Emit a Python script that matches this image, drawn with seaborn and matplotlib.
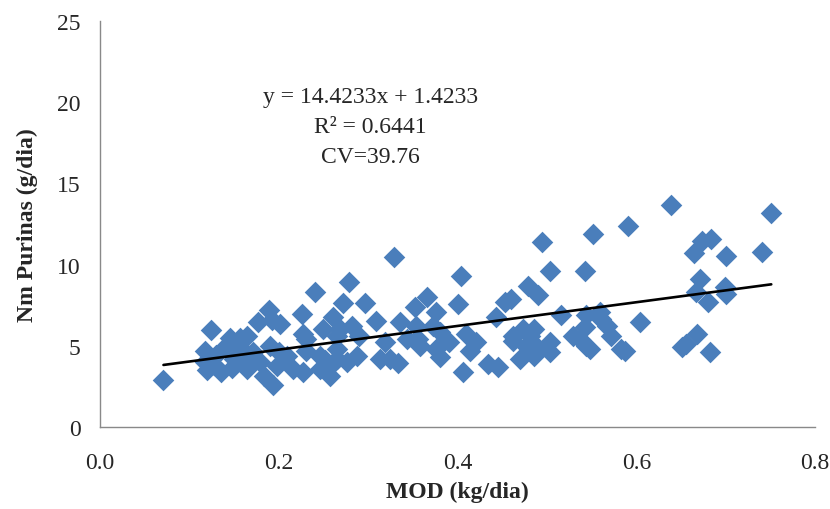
import numpy as np
import pandas as pd
import matplotlib.pyplot as plt
import seaborn as sns

# MOD (kg/dia) and Nm Purinas (g/dia)
mod = [0.071, 0.124, 0.117, 0.118, 0.120, 0.128, 0.130, 0.135, 0.140, 0.145,
       0.150, 0.148, 0.155, 0.157, 0.160, 0.164, 0.164, 0.168, 0.171, 0.177,
       0.179, 0.183, 0.189, 0.190, 0.192, 0.194, 0.198, 0.201, 0.200,
       0.209, 0.226, 0.216, 0.227, 0.227, 0.231, 0.231, 0.240, 0.246, 0.246,
       0.250, 0.252, 0.257, 0.259, 0.261, 0.265, 0.265, 0.268, 0.265, 0.272,
       0.276, 0.279, 0.282, 0.287, 0.290, 0.296, 0.309, 0.313, 0.319,
       0.324, 0.333, 0.336, 0.329, 0.343, 0.352, 0.366, 0.354, 0.356, 0.358,
       0.373, 0.376, 0.380, 0.376, 0.380, 0.391, 0.401, 0.404, 0.406, 0.410,
       0.421, 0.414, 0.434, 0.445, 0.443, 0.453, 0.460, 0.462, 0.462, 0.473,
       0.477, 0.481, 0.470, 0.485, 0.488, 0.479, 0.490, 0.494, 0.504, 0.503,
       0.503, 0.485, 0.516, 0.529, 0.537, 0.543, 0.544, 0.543, 0.544, 0.548,
       0.552, 0.559, 0.561, 0.567, 0.572, 0.583, 0.587, 0.591, 0.604,
       0.639, 0.656, 0.651, 0.664, 0.667, 0.668, 0.671, 0.673, 0.680, 0.682,
       0.684, 0.699, 0.700, 0.700, 0.741, 0.751]
nm = [2.90, 5.95, 4.70, 4.00, 3.50, 3.80, 4.40, 3.40, 4.90, 5.50,
      4.20, 3.60, 5.00, 5.50, 3.90, 5.62, 3.57, 4.30, 4.60, 6.45,
      3.98, 3.16, 7.20, 5.00, 6.60, 2.55, 3.78, 6.34, 4.60,
      4.39, 6.96, 3.57, 5.73, 3.37, 4.70, 5.42, 8.30, 4.39, 3.57,
      6.03, 4.10, 3.16, 3.90, 6.75, 5.62, 4.80, 6.03, 4.19, 7.60,
      3.98, 8.90, 6.24, 4.39, 5.62, 7.60, 6.50, 4.19, 5.20,
      4.19, 3.95, 6.45, 10.45, 5.42, 7.40, 8.00, 6.24, 5.42, 5.00,
      6.24, 4.80, 4.31, 7.06, 5.83, 5.20, 7.57, 9.30, 3.40, 5.73,
      5.20, 4.70, 3.88, 3.68, 6.75, 7.68, 7.88, 5.30, 5.62, 6.03,
      5.00, 5.62, 4.19, 4.39, 5.00, 8.70, 8.10, 11.37, 9.60, 5.20,
      4.60, 6.03, 6.86, 5.62, 5.42, 6.14, 6.86, 9.60, 5.00, 4.80,
      11.90, 7.06, 6.65, 6.24, 5.62, 4.80, 4.70, 12.40, 6.45,
      13.67, 5.11, 4.90, 10.71, 8.30, 5.73, 9.10, 11.47, 7.68, 4.64,
      11.57, 8.60, 8.19, 10.50, 10.80, 13.20]

eq_text = ["y = 14.4233x + 1.4233", "R² = 0.6441", "CV=39.76"]

df = pd.DataFrame({"MOD": mod, "Nm": nm})

sns.set_style("white")
plt.rcParams['font.family'] = ['Liberation Serif', 'DejaVu Serif']

fig = plt.figure(figsize=(8.3, 5.1), dpi=100)
ax = fig.add_axes([0.1205, 0.161, 0.8615, 0.796])

sns.scatterplot(data=df, x="MOD", y="Nm", marker="D", s=121, color="#4A7EBB",
                linewidth=0, ax=ax, zorder=2)
sns.regplot(data=df, x="MOD", y="Nm", scatter=False, ci=None, truncate=True,
            line_kws={"color": "black", "linewidth": 1.9, "zorder": 3}, ax=ax)

ax.set_xlim(0, 0.8)
ax.set_ylim(0, 25)
ax.set_xticks([0.0, 0.2, 0.4, 0.6, 0.8])
ax.set_xticklabels(["0.0", "0.2", "0.4", "0.6", "0.8"])
ax.set_yticks([0, 5, 10, 15, 20, 25])
ax.tick_params(labelsize=17, length=0, pad=14)
ax.tick_params(axis="x", pad=18)

for side in ["top", "right"]:
    ax.spines[side].set_visible(False)
for side in ["left", "bottom"]:
    ax.spines[side].set_color("#898989")
    ax.spines[side].set_linewidth(1)

ax.set_xlabel("MOD (kg/dia)", fontsize=17, fontweight="bold", labelpad=6)
ax.set_ylabel("Nm Purinas (g/dia)", fontsize=17, fontweight="bold", labelpad=14)

for i, t in enumerate(eq_text):
    ax.text(0.378, 0.815 - i * 0.075, t, transform=ax.transAxes,
            ha="center", va="center", fontsize=17)

fig.savefig("out.png", dpi=100)
